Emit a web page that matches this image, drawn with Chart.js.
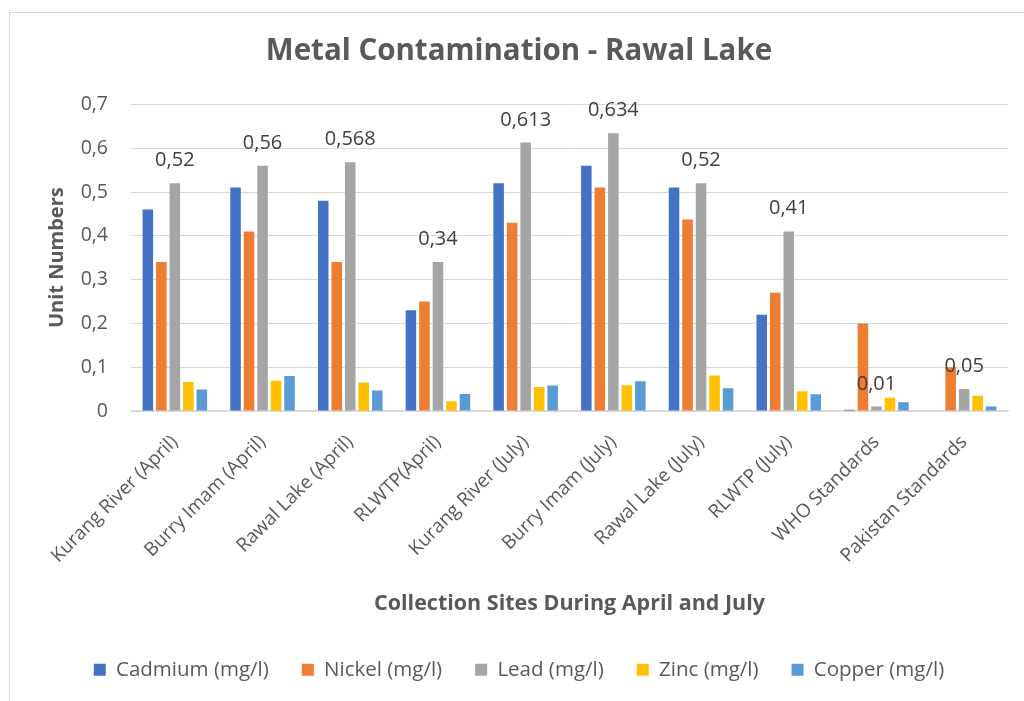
<!DOCTYPE html>
<html>
<head>
<meta charset="utf-8">
<script src="https://cdn.jsdelivr.net/npm/chart.js@4/dist/chart.umd.min.js"></script>
<style>
  html, body { margin: 0; padding: 0; background: #fff; overflow: hidden; }
  #wrap { position: relative; width: 1024px; height: 701px; }
  #frame { position: absolute; left: 9px; top: 12px; width: 1100px; height: 800px; border: 1px solid #d9d9d9; }
  canvas { position: absolute; left: 0; top: 0; }
</style>
</head>
<body>
<div id="wrap">
  <div id="frame"></div>
  <canvas id="chart" width="1024" height="701"></canvas>
</div>
<script>
// données
const sites = ['Kurang River (April)', 'Burry Imam (April)', 'Rawal Lake (April)', 'RLWTP(April)',
  'Kurang River (July)', 'Burry Imam (July)', 'Rawal Lake (July)', 'RLWTP (July)',
  'WHO Standards', 'Pakistan Standards'];
const cadmium = [0.46, 0.51, 0.48, 0.23, 0.52, 0.56, 0.51, 0.22, 0.003, 0];
const nickel = [0.34, 0.41, 0.34, 0.25, 0.43, 0.51, 0.437, 0.27, 0.2, 0.1];
const lead = [0.52, 0.56, 0.568, 0.34, 0.613, 0.634, 0.52, 0.41, 0.01, 0.05];
const zinc = [0.066, 0.069, 0.065, 0.022, 0.055, 0.059, 0.081, 0.045, 0.03, 0.035];
const copper = [0.049, 0.080, 0.047, 0.039, 0.058, 0.068, 0.052, 0.038, 0.02, 0.01];
const yTicks = [0, 0.1, 0.2, 0.3, 0.4, 0.5, 0.6, 0.7];

const FONT = "'Open Sans', sans-serif";
const TXT = '#595959';

const fmt = v => String(v).replace('.', ',');

// étiquettes de valeur au-dessus des barres "Lead"
const leadLabels = {
    id: 'leadLabels',
    afterDatasetsDraw(chart) {
        const ctx = chart.ctx;
        const meta = chart.getDatasetMeta(2);
        ctx.save();
        ctx.font = '20px ' + FONT;
        ctx.fillStyle = '#404040';
        ctx.textAlign = 'center';
        ctx.textBaseline = 'alphabetic';
        meta.data.forEach((bar, i) => {
            ctx.fillText(fmt(lead[i]), bar.x, bar.y - 17);
        });
        ctx.restore();
    }
};

new Chart(document.getElementById('chart'), {
    type: 'bar',
    data: {
        labels: sites,
        datasets: [
            { label: 'Cadmium (mg/l)', data: cadmium, backgroundColor: '#4472C4' },
            { label: 'Nickel (mg/l)', data: nickel, backgroundColor: '#ED7D31' },
            { label: 'Lead (mg/l)', data: lead, backgroundColor: '#A5A5A5' },
            { label: 'Zinc (mg/l)', data: zinc, backgroundColor: '#FFC000' },
            { label: 'Copper (mg/l)', data: copper, backgroundColor: '#5B9BD5' }
        ]
    },
    options: {
        responsive: false,
        animation: false,
        categoryPercentage: 0.77,
        barPercentage: 0.78,
        layout: { padding: { left: 30, right: 16, top: 0, bottom: 11 } },
        plugins: {
            title: {
                display: true,
                text: 'Metal Contamination - Rawal Lake',
                color: TXT,
                font: { family: FONT, size: 29.5, weight: 'bold' },
                padding: { top: 34, bottom: 35 }
            },
            legend: {
                position: 'bottom',
                labels: {
                    color: TXT,
                    font: { family: FONT, size: 20.5 },
                    boxWidth: 12,
                    boxHeight: 12,
                    padding: 33
                }
            },
            tooltip: { enabled: false }
        },
        scales: {
            x: {
                grid: { display: false },
                border: { display: true, color: '#d9d9d9', width: 1.5 },
                ticks: {
                    color: TXT,
                    font: { family: FONT, size: 19 },
                    minRotation: 45,
                    maxRotation: 45,
                    padding: 12
                },
                title: {
                    display: true,
                    text: 'Collection Sites During April and July',
                    color: TXT,
                    font: { family: FONT, size: 21.5, weight: 'bold' },
                    padding: { top: 4, bottom: 10 }
                },
                afterFit(scale) { scale.height = 215.5; }
            },
            y: {
                min: 0,
                max: 0.7,
                grid: { color: '#d9d9d9', lineWidth: 1, drawTicks: false },
                border: { display: false },
                afterBuildTicks(scale) { scale.ticks = yTicks.map(v => ({ value: v })); },
                ticks: {
                    color: TXT,
                    font: { family: FONT, size: 19.5 },
                    padding: 23,
                    callback: v => fmt(Math.round(v * 10) / 10)
                },
                title: {
                    display: true,
                    text: 'Unit Numbers',
                    color: TXT,
                    font: { family: FONT, size: 20, weight: 'bold' },
                    padding: { top: 15, bottom: 0 }
                },
                afterFit(scale) { scale.width = 101; }
            }
        }
    },
    plugins: [leadLabels]
});
</script>
</body>
</html>
